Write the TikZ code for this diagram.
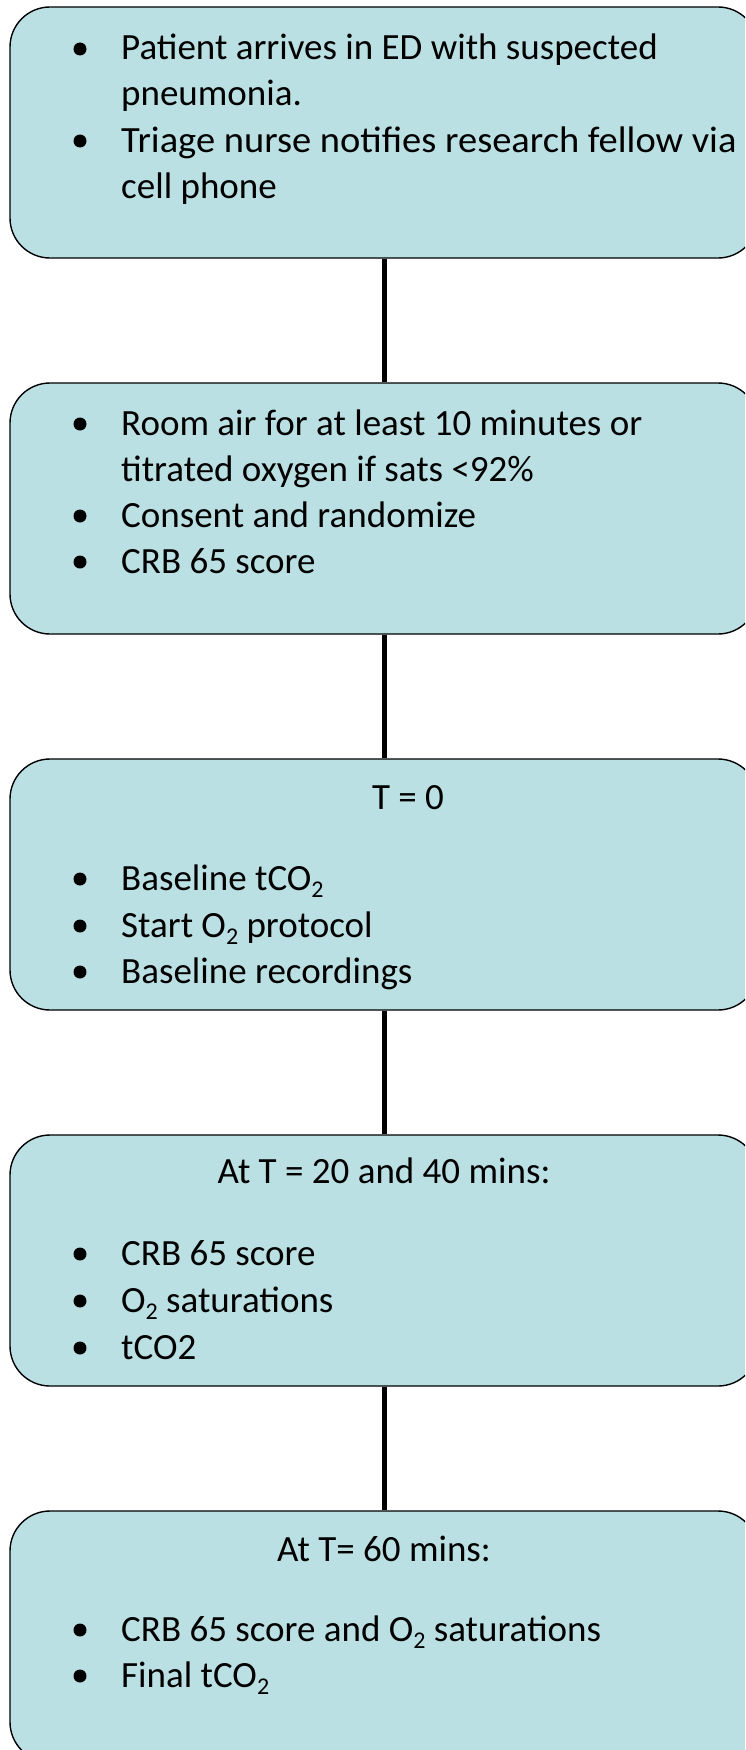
\documentclass[tikz,border=0pt]{standalone}
\usepackage{fontspec}
\setmainfont{Carlito}
\definecolor{boxfill}{RGB}{187,224,227}
\newcommand\mysub[1]{\raisebox{-0.2em}{\fontsize{24}{24}\selectfont #1}}
\begin{document}
\begin{tikzpicture}[x=1pt,y=-1pt,
  stage/.style={draw=black, line width=1.4pt, fill=boxfill, rounded corners=40pt,
    minimum width=748pt, minimum height=251pt, inner sep=0pt},
  txt/.style={anchor=base west, inner sep=0pt, font=\fontsize{37}{45}\selectfont},
  hdr/.style={anchor=base, inner sep=0pt, font=\fontsize{37}{45}\selectfont},
  bul/.style={circle, fill=black, inner sep=0pt, minimum size=13pt},
  conn/.style={draw=black, line width=5pt}]
\useasboundingbox (0,0) rectangle (745,1750);
\clip (0,0) rectangle (745,1750);
% boxes
\node[stage] (b1) at (384,132.5) {};
\node[stage] (b2) at (384,508.5) {};
\node[stage] (b3) at (384,884.5) {};
\node[stage] (b4) at (384,1260.5) {};
\node[stage] (b5) at (384,1636.5) {};
% connectors
\draw[conn] (b1.south) -- (b2.north);
\draw[conn] (b2.south) -- (b3.north);
\draw[conn] (b3.south) -- (b4.north);
\draw[conn] (b4.south) -- (b5.north);
% box 1
\node[bul] (d11) at (80,49) {};
\node[txt] (t11) at (121,60) {Patient arrives in ED with suspected};
\node[txt] (t12) at (121,106) {pneumonia.};
\node[bul] (d12) at (80,141) {};
\node[txt] (t13) at (121,152) {\scalebox{1.04}[1]{Triage nurse notifies research fellow via}};
\node[txt] (t14) at (121,198) {cell phone};
% box 2
\node[bul] (d21) at (80,424) {};
\node[txt] (t21) at (121,435) {Room air for at least 10 minutes or};
\node[txt] (t22) at (121,481) {titrated oxygen if sats <92\%};
\node[bul] (d22) at (80,516) {};
\node[txt] (t23) at (121,527) {Consent and randomize};
\node[bul] (d23) at (80,562) {};
\node[txt] (t24) at (121,573) {CRB 65 score};
% box 3
\node[hdr] (h3) at (408,809) {T = 0};
\node[bul] (d31) at (80,879) {};
\node[txt] (t31) at (121,890) {Baseline tCO\mysub{2}};
\node[bul] (d32) at (80,926) {};
\node[txt] (t32) at (121,937) {Start O\mysub{2} protocol};
\node[bul] (d33) at (80,972) {};
\node[txt] (t33) at (121,983) {Baseline recordings};
% box 4
\node[hdr] (h4) at (384,1183) {At T = 20 and 40 mins:};
\node[bul] (d41) at (80,1254) {};
\node[txt] (t41) at (121,1265) {CRB 65 score};
\node[bul] (d42) at (80,1301) {};
\node[txt] (t42) at (121,1312) {O\mysub{2} saturations};
\node[bul] (d43) at (80,1348) {};
\node[txt] (t43) at (121,1359) {tCO2};
% box 5
\node[hdr] (h5) at (384,1561) {At T= 60 mins:};
\node[bul] (d51) at (80,1630) {};
\node[txt] (t51) at (121,1641) {CRB 65 score and O\mysub{2} saturations};
\node[bul] (d52) at (80,1676) {};
\node[txt] (t52) at (121,1687) {Final tCO\mysub{2}};
\end{tikzpicture}
\end{document}
